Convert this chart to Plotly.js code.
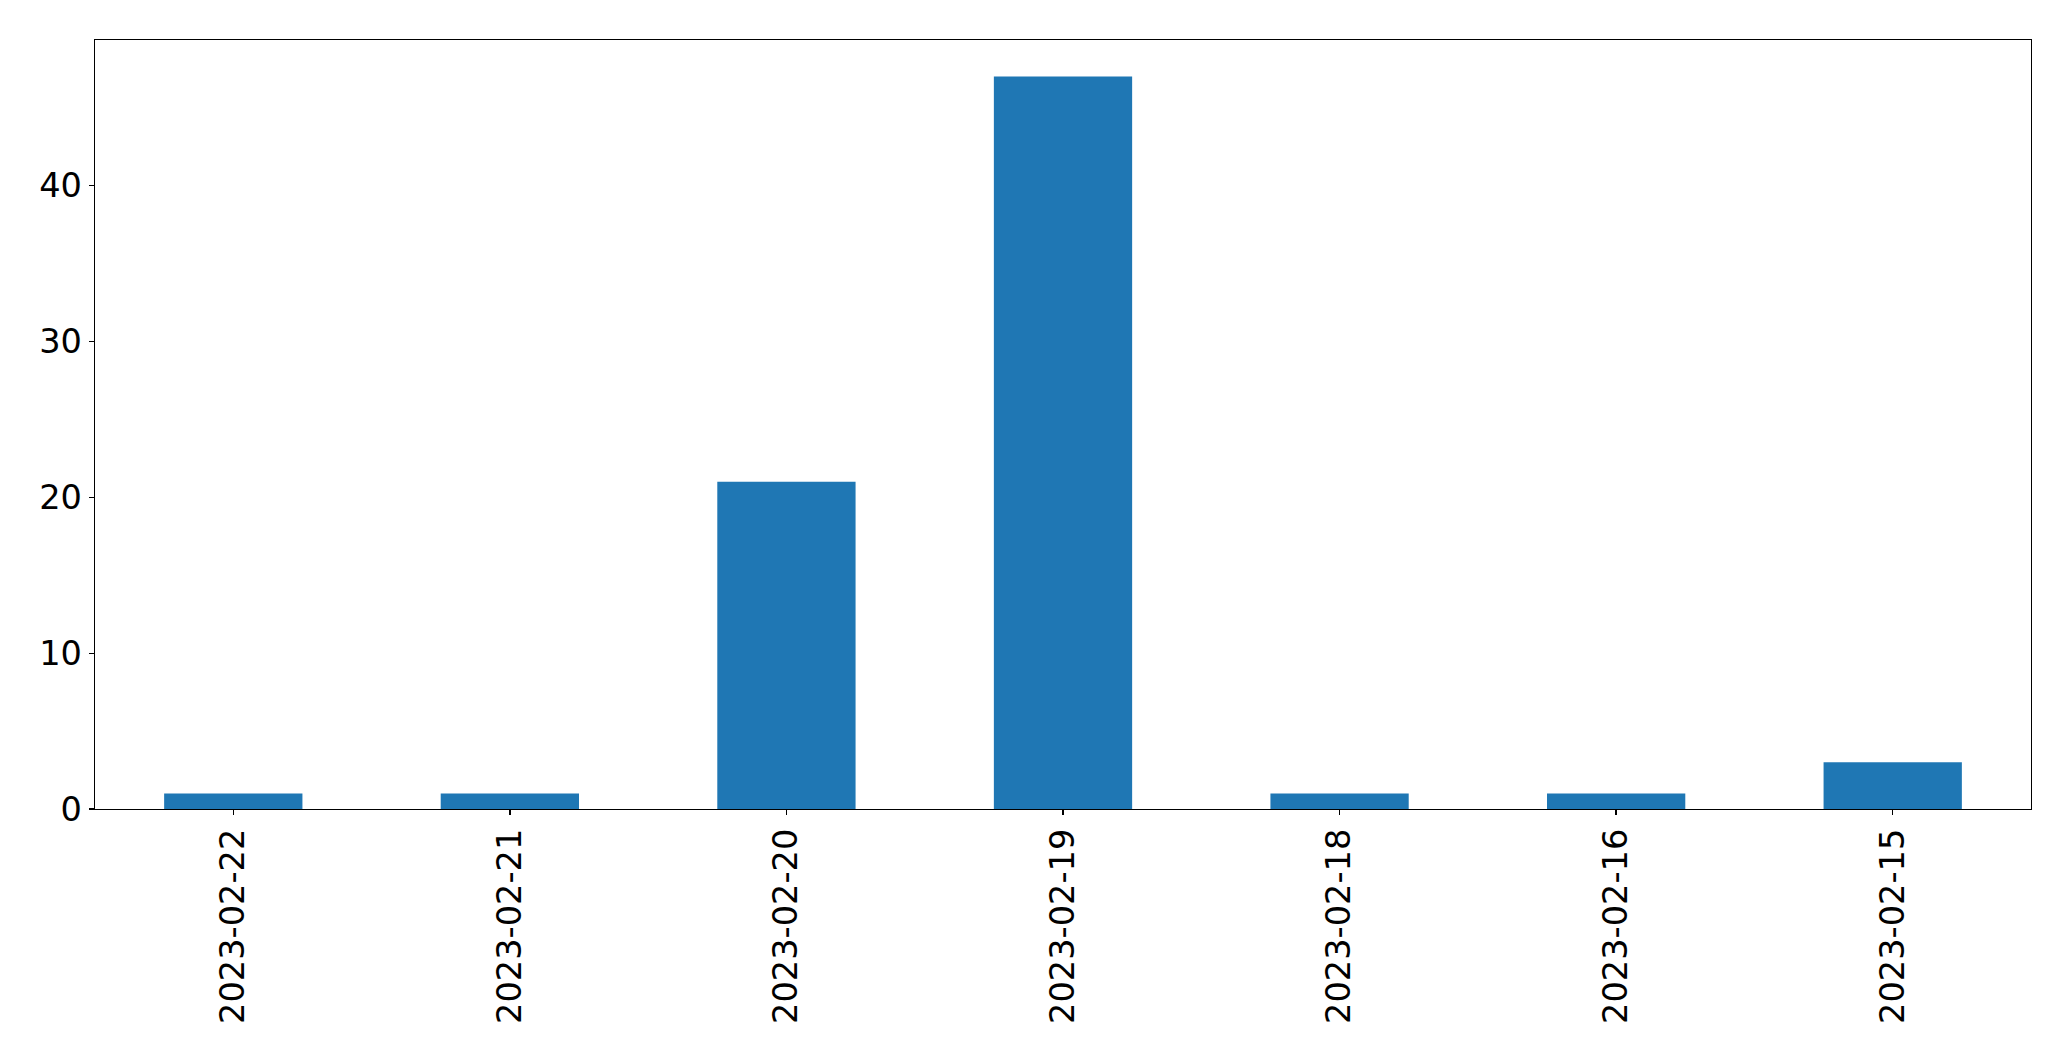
<!DOCTYPE html>
<html>
<head>
<meta charset="utf-8">
<script src="https://cdn.plot.ly/plotly-3.0.1.min.js"></script>
<style>html,body{margin:0;padding:0;background:#fff;}#chart{width:2071px;height:1061px;}</style>
</head>
<body>
<div id="chart"></div>
<script>
const categories = ["2023-02-22","2023-02-21","2023-02-20","2023-02-19","2023-02-18","2023-02-16","2023-02-15"];
const counts = [1, 1, 21, 47, 1, 1, 3];
const yTickValues = [0, 10, 20, 30, 40];

const trace = {
  type: "bar",
  x: categories,
  y: counts,
  marker: {color: "#1f77b4", line: {width: 0}},
  hoverinfo: "x+y"
};

const font = {family: "DejaVu Sans, sans-serif", size: 33.6, color: "#000"};

const layout = {
  width: 2071,
  height: 1061,
  margin: {l: 95, r: 40, t: 40, b: 252, pad: 0},
  paper_bgcolor: "#fff",
  plot_bgcolor: "#fff",
  showlegend: false,
  bargap: 0.5,
  font: font,
  xaxis: {
    type: "category",
    range: [-0.5, 6.5],
    tickangle: -90,
    ticks: "outside",
    ticklen: 5,
    tickwidth: 1.3,
    tickcolor: "#000",
    showline: true,
    linecolor: "#000",
    linewidth: 1.3,
    mirror: true,
    showgrid: false,
    zeroline: false,
    tickfont: font,
    ticklabelstandoff: 0
  },
  yaxis: {
    range: [0, 49.35],
    tickvals: yTickValues,
    ticktext: yTickValues.map(String),
    ticks: "outside",
    ticklen: 5,
    tickwidth: 1.3,
    tickcolor: "#000",
    showline: true,
    linecolor: "#000",
    linewidth: 1.3,
    mirror: true,
    showgrid: false,
    zeroline: false,
    tickfont: font,
    ticklabelstandoff: 0
  }
};

Plotly.newPlot("chart", [trace], layout, {displayModeBar: false, staticPlot: true});
</script>
</body>
</html>
